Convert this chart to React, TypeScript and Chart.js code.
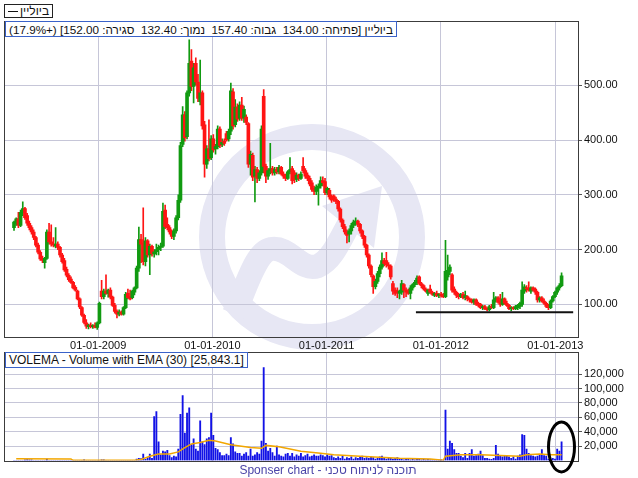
import React, { useEffect, useRef } from "react";
import { Chart, registerables } from "chart.js";

Chart.register(...registerables);

// ---- data ----
const firstWeek = "2008-04-07"; // weekly candles start here
const yearTickLabels = ["01-01-2009", "01-01-2010", "01-01-2011", "01-01-2012", "01-01-2013"];
const priceTicks = [100, 200, 300, 400, 500];
const volumeTicks = [20000, 40000, 60000, 80000, 100000, 120000];

const openP = [
  240, 248, 256, 244, 268, 275, 262, 248, 240, 232,
  222, 208, 195, 184, 176, 184, 232, 214, 210, 206,
  210, 204, 190, 180, 164, 153, 146, 140, 131, 124,
  110, 94, 80, 66, 59, 62, 59, 61, 58, 66,
  124, 114, 124, 120, 126, 113, 98, 87, 82, 86,
  82, 94, 120, 114, 112, 122, 130, 166, 218, 212,
  178, 216, 190, 206, 192, 196, 200, 204, 206, 272,
  246, 240, 232, 224, 234, 258, 290, 392, 446, 406,
  486, 544, 498, 540, 506, 470, 486, 428, 356, 384,
  368, 402, 384, 388, 420, 392, 398, 412, 402, 416,
  488, 428, 460, 440, 464, 440, 442, 430, 356, 372,
  334, 346, 330, 340, 480, 352, 334, 344, 348, 340,
  346, 342, 350, 338, 334, 330, 342, 348, 340, 328,
  336, 330, 352, 344, 336, 330, 322, 312, 306, 312,
  316, 326, 324, 304, 308, 296, 298, 292, 288, 274,
  254, 242, 232, 228, 234, 244, 250, 252, 246, 234,
  224, 208, 190, 170, 152, 132, 142, 156, 168, 180,
  180, 172, 170, 138, 126, 124, 120, 122, 136, 126,
  124, 120, 130, 136, 140, 150, 138, 134, 128, 120,
  128, 122, 116, 120, 116, 118, 116, 114, 150, 160,
  154, 128, 122, 116, 114, 118, 112, 114, 110, 108,
  104, 108, 102, 100, 94, 96, 92, 90, 96, 94,
  108, 112, 106, 100, 110, 102, 98, 92, 94, 92,
  94, 96, 100, 124, 130, 130, 124, 130, 128, 122,
  108, 112, 106, 102, 96, 94, 106, 114, 122, 130,
  134,
];
const highP = [
  252, 258, 268, 272, 287, 277, 266, 252, 244, 236,
  224, 212, 198, 188, 186, 236, 248, 245, 222, 240,
  214, 206, 193, 184, 168, 156, 150, 142, 134, 126,
  112, 96, 82, 72, 64, 66, 63, 66, 68, 104,
  144, 128, 154, 128, 130, 115, 102, 90, 90, 88,
  96, 122, 128, 126, 126, 132, 170, 241, 228, 276,
  222, 218, 210, 208, 200, 210, 208, 212, 285, 281,
  258, 244, 236, 238, 262, 300, 396, 461, 452, 490,
  583, 565, 540, 550, 520, 546, 490, 434, 390, 437,
  408, 410, 392, 426, 424, 402, 402, 416, 420, 504,
  494, 474, 466, 470, 478, 462, 446, 432, 380, 376,
  352, 350, 344, 426, 492, 356, 348, 394, 352, 350,
  350, 354, 352, 342, 338, 344, 368, 352, 344, 340,
  338, 342, 368, 348, 340, 334, 326, 316, 318, 320,
  333, 333, 330, 314, 312, 300, 300, 296, 290, 276,
  256, 246, 236, 238, 248, 254, 258, 254, 248, 236,
  226, 210, 192, 172, 154, 146, 160, 172, 194, 184,
  195, 176, 172, 142, 130, 130, 126, 144, 138, 130,
  128, 134, 138, 144, 152, 152, 140, 136, 130, 128,
  135, 124, 122, 124, 120, 122, 120, 217, 190, 172,
  156, 132, 124, 120, 120, 122, 124, 116, 112, 110,
  110, 110, 104, 102, 98, 98, 94, 98, 100, 122,
  114, 114, 118, 122, 112, 106, 100, 96, 96, 98,
  100, 104, 141, 136, 134, 141, 132, 132, 130, 124,
  114, 114, 110, 104, 100, 108, 116, 124, 132, 138,
  157.4,
];
const lowP = [
  235, 244, 240, 242, 262, 255, 244, 236, 228, 218,
  205, 192, 180, 176, 166, 182, 210, 206, 205, 203,
  200, 186, 175, 160, 150, 142, 138, 128, 124, 108,
  92, 78, 64, 56, 55, 57, 56, 57, 54, 64,
  110, 110, 118, 113, 110, 96, 84, 75, 79, 80,
  80, 92, 110, 108, 110, 117, 128, 160, 176, 172,
  170, 186, 154, 188, 186, 190, 190, 198, 204, 238,
  236, 228, 220, 218, 230, 254, 286, 388, 398, 402,
  480, 490, 468, 500, 470, 464, 420, 332, 348, 362,
  364, 378, 374, 384, 386, 388, 390, 398, 398, 410,
  420, 424, 434, 436, 436, 432, 428, 350, 336, 326,
  287, 322, 326, 336, 340, 322, 328, 338, 336, 336,
  338, 338, 336, 330, 326, 328, 338, 320, 322, 324,
  326, 328, 340, 330, 326, 316, 306, 300, 300, 281,
  312, 316, 300, 300, 292, 286, 288, 284, 270, 250,
  238, 228, 212, 214, 228, 240, 244, 242, 230, 220,
  204, 186, 166, 150, 120, 128, 138, 150, 164, 170,
  168, 164, 146, 118, 116, 112, 110, 118, 112, 114,
  118, 110, 126, 132, 136, 136, 130, 126, 122, 116,
  120, 116, 114, 114, 112, 113, 112, 112, 144, 154,
  122, 118, 112, 110, 112, 110, 108, 106, 104, 102,
  100, 98, 95, 92, 90, 90, 88, 88, 92, 92,
  104, 102, 96, 98, 100, 96, 90, 88, 90, 90,
  90, 92, 96, 120, 122, 124, 120, 124, 118, 104,
  104, 104, 100, 94, 90, 92, 104, 112, 118, 126,
  132.4,
];
const closeP = [
  250, 256, 244, 268, 275, 258, 248, 240, 232, 222,
  208, 195, 183, 180, 184, 232, 214, 210, 208, 210,
  204, 190, 178, 163, 153, 145, 140, 130, 126, 110,
  95, 80, 67, 60, 62, 59, 61, 58, 66, 102,
  114, 124, 120, 126, 113, 98, 87, 82, 86, 82,
  94, 118, 112, 110, 124, 130, 166, 218, 210, 178,
  216, 190, 206, 192, 196, 200, 204, 206, 270, 242,
  240, 232, 224, 234, 258, 290, 390, 446, 404, 486,
  540, 498, 532, 506, 476, 486, 426, 356, 384, 366,
  402, 382, 388, 420, 390, 396, 394, 400, 416, 490,
  426, 460, 438, 464, 440, 456, 432, 356, 374, 332,
  346, 330, 340, 420, 352, 334, 344, 348, 340, 346,
  342, 350, 338, 334, 330, 342, 346, 326, 328, 336,
  330, 338, 344, 334, 330, 320, 310, 306, 314, 316,
  326, 322, 304, 312, 296, 290, 292, 288, 274, 254,
  242, 232, 226, 234, 244, 250, 252, 246, 234, 224,
  208, 190, 170, 154, 132, 142, 156, 168, 180, 174,
  172, 170, 150, 124, 120, 122, 124, 138, 126, 122,
  120, 130, 136, 140, 148, 138, 134, 128, 124, 126,
  122, 118, 120, 116, 118, 116, 114, 160, 162, 168,
  126, 122, 116, 114, 118, 112, 116, 110, 108, 104,
  108, 100, 98, 94, 96, 92, 90, 96, 94, 108,
  112, 104, 100, 110, 102, 98, 92, 94, 92, 96,
  98, 102, 126, 132, 128, 126, 130, 126, 122, 108,
  112, 106, 102, 96, 94, 106, 114, 122, 130, 134,
  152,
];
const volume = [
  0, 0, 0, 0, 0, 1000, 1200, 800, 1000, 0,
  0, 0, 0, 0, 0, 2000, 0, 0, 0, 0,
  0, 0, 0, 0, 0, 0, 0, 0, 0, 0,
  0, 0, 800, 0, 0, 0, 0, 0, 0, 0,
  800, 800, 0, 0, 0, 0, 0, 0, 0, 0,
  0, 0, 0, 0, 0, 0, 2000, 3000, 2500, 9000,
  1500, 4000, 9000, 3000, 61000, 68000, 26000, 8000, 13000, 12000,
  14000, 7000, 4000, 6000, 5000, 16000, 64000, 90000, 38000, 66000,
  73000, 22000, 30000, 16000, 13000, 55000, 26000, 22000, 30000, 32000,
  66000, 35000, 17000, 15000, 11000, 7000, 7000, 9000, 7000, 32000,
  23000, 12000, 10000, 10000, 6000, 9000, 11000, 6000, 16000, 6000,
  8000, 11000, 9000, 27000, 129000, 24000, 13000, 17000, 11000, 6000,
  20000, 8000, 6000, 5000, 9000, 10000, 6000, 10000, 5000, 8000,
  6000, 10000, 5000, 7000, 9000, 5000, 6000, 8000, 6000, 6000,
  8000, 7000, 5000, 8000, 6000, 7000, 4000, 3000, 5000, 3000,
  6000, 2000, 4000, 3000, 5000, 2000, 4000, 3000, 5000, 6000,
  3000, 4000, 3000, 5000, 4000, 2000, 3000, 5000, 6000, 3000,
  2000, 4000, 3000, 2000, 3000, 4000, 2000, 2000, 1000, 2000,
  3000, 1000, 2000, 1000, 1500, 2000, 1000, 2000, 1000, 1500,
  1000, 1000, 500, 1000, 500, 1000, 500, 70000, 16000, 27000,
  24000, 15000, 10000, 10000, 6000, 4000, 10000, 3000, 10000, 15000,
  6000, 7000, 9000, 13000, 7000, 3000, 3000, 2000, 1500, 3000,
  21000, 9000, 6000, 5000, 7000, 7000, 5000, 3000, 5000, 2000,
  6000, 8000, 36000, 35000, 16000, 10000, 7000, 6000, 5000, 6000,
  8000, 15000, 7000, 6000, 2000, 1000, 3000, 2000, 16000, 13000,
  26000,
];
const emaWeeks = [1, 26, 27, 55, 58, 62, 66, 71, 75, 78, 81, 85, 89, 92, 99, 108, 113, 115, 121, 131, 140, 146, 158, 176, 190, 196, 197, 204, 213, 222, 231, 234, 240, 245, 250];
const emaValues = [2500, 2000, 300, 300, 1500, 6000, 9000, 9000, 12000, 18000, 23000, 25000, 28000, 27000, 22000, 18000, 17000, 21000, 19000, 13000, 10000, 8000, 6000, 3000, 2000, 500, 6000, 8000, 8000, 7000, 6000, 8000, 9000, 8000, 8000];
const supportFromWeek = 183.5;
const supportToWeek = 255.3;
const supportPrice = 85.4;

const legendName = "ביוליין";
const priceHeader = "ביוליין [פתיחה: 134.00  גבוה: 157.40  נמוך: 132.40  סגירה: 152.00] (+17.9%)";
const volumeHeader = "VOLEMA - Volume with EMA (30) [25,843.1]";
const footerText = "Sponser chart - תוכנה לניתוח טכני";

// ---- styles ----
const FONT = "'Liberation Sans', Arial, sans-serif";
const GREEN = "#119a11";
const RED = "#ff1414";
const GRID = "#c6c6d8";
const FRAME = "#3c3c3c";
const WATERMARK = "#e7e7f4";
const WEEK_MS = 7 * 86400000;

function weekOf(label: string): number {
  const [d, m, y] = label.split("-").map(Number);
  const [sy, sm, sd] = firstWeek.split("-").map(Number);
  return (Date.UTC(y, m - 1, d) - Date.UTC(sy, sm - 1, sd)) / WEEK_MS;
}

const framePlugin = {
  id: "frame",
  afterDraw(chart: any) {
    const { ctx, chartArea: a } = chart;
    ctx.save();
    ctx.strokeStyle = FRAME;
    ctx.lineWidth = 1;
    const l = Math.round(a.left) + 0.5;
    const t = Math.round(a.top) + 0.5;
    const r = Math.round(a.right) + 0.5;
    const b = Math.round(a.bottom) + 0.5;
    ctx.strokeRect(l, t, r - l, b - t);
    ctx.restore();
  },
};

const watermarkPlugin = {
  id: "watermark",
  beforeDraw(chart: any) {
    const { ctx } = chart;
    ctx.save();
    ctx.strokeStyle = WATERMARK;
    ctx.fillStyle = WATERMARK;
    ctx.lineWidth = 26;
    ctx.beginPath();
    ctx.arc(312, 237, 100, 0, Math.PI * 2);
    ctx.stroke();
    ctx.lineWidth = 24;
    ctx.lineCap = "butt";
    ctx.lineJoin = "round";
    ctx.beginPath();
    ctx.moveTo(234, 314);
    ctx.bezierCurveTo(248, 282, 256, 252, 271, 249);
    ctx.bezierCurveTo(290, 246, 300, 272, 318, 266);
    ctx.bezierCurveTo(332, 260, 340, 240, 350, 222);
    ctx.stroke();
    ctx.beginPath();
    ctx.moveTo(322, 206);
    ctx.lineTo(382, 186);
    ctx.lineTo(374, 248);
    ctx.closePath();
    ctx.fill();
    ctx.restore();
  },
};

const ellipsePlugin = {
  id: "ellipse",
  afterDraw(chart: any) {
    const { ctx } = chart;
    ctx.save();
    ctx.strokeStyle = "#000";
    ctx.lineWidth = 3;
    ctx.beginPath();
    ctx.ellipse(561.5, 95, 13, 25, 0, 0, Math.PI * 2);
    ctx.stroke();
    ctx.restore();
  },
};

export default function App() {
  const priceRef = useRef<HTMLCanvasElement>(null);
  const volRef = useRef<HTMLCanvasElement>(null);

  useEffect(() => {
    const yearPos = yearTickLabels.map(weekOf);
    const colors = closeP.map((c, i) => (c >= openP[i] ? GREEN : RED));
    const tickFont = { family: FONT, size: 11 };
    const xMin = -4.57;
    const xMax = 257.5;

    const priceChart = new Chart(priceRef.current as HTMLCanvasElement, {
      type: "bar",
      data: {
        datasets: [
          {
            type: "bar",
            data: lowP.map((l, i) => ({ x: i, y: [l, highP[i]] })) as any,
            backgroundColor: colors,
            barThickness: 1,
            grouped: false,
            order: 3,
          },
          {
            type: "bar",
            data: openP.map((o, i) => ({ x: i, y: [Math.min(o, closeP[i]), Math.max(o, closeP[i])] })) as any,
            backgroundColor: colors,
            barThickness: 3,
            minBarLength: 1,
            grouped: false,
            order: 2,
          },
          {
            type: "line",
            data: [
              { x: supportFromWeek, y: supportPrice },
              { x: supportToWeek, y: supportPrice },
            ] as any,
            borderColor: "#111",
            borderWidth: 2,
            pointRadius: 0,
            order: 1,
          },
        ],
      },
      options: {
        responsive: false,
        animation: false,
        devicePixelRatio: 1,
        layout: { padding: { left: 4, top: 21, right: 0, bottom: 0 } },
        plugins: { legend: { display: false }, tooltip: { enabled: false } },
        scales: {
          x: {
            type: "linear",
            min: xMin,
            max: xMax,
            offset: false,
            afterBuildTicks: (s: any) => {
              s.ticks = yearPos.map((v) => ({ value: v }));
            },
            afterFit: (s: any) => {
              s.height = 15.5;
              s.paddingLeft = 0;
              s.paddingRight = 0;
            },
            ticks: {
              autoSkip: false,
              maxRotation: 0,
              padding: 3,
              font: tickFont,
              color: "#111",
              callback: (_v: any, i: number) => yearTickLabels[i],
            },
            grid: { color: GRID, drawTicks: false, offset: false },
            border: { display: false },
          },
          y: {
            type: "linear",
            position: "right",
            min: 41.2,
            max: 617.4,
            beginAtZero: false,
            afterBuildTicks: (s: any) => {
              s.ticks = priceTicks.map((v) => ({ value: v }));
            },
            afterFit: (s: any) => {
              s.width = 60;
              s.paddingTop = 0;
              s.paddingBottom = 0;
            },
            ticks: {
              padding: 2,
              font: tickFont,
              color: "#111",
              callback: (v: any) => Number(v).toFixed(2),
            },
            grid: { color: GRID, tickColor: "#555", tickLength: 4 },
            border: { display: false },
          },
        },
      } as any,
      plugins: [watermarkPlugin, framePlugin],
    });

    const volChart = new Chart(volRef.current as HTMLCanvasElement, {
      type: "bar",
      data: {
        datasets: [
          {
            type: "bar",
            data: volume.map((v, i) => ({ x: i, y: v })) as any,
            backgroundColor: "#1212e6",
            barThickness: 1.2,
            grouped: false,
            order: 2,
          },
          {
            type: "line",
            data: emaWeeks.map((w, i) => ({ x: w, y: emaValues[i] })) as any,
            borderColor: "#f2a600",
            borderWidth: 1.5,
            pointRadius: 0,
            order: 1,
          },
        ],
      },
      options: {
        responsive: false,
        animation: false,
        devicePixelRatio: 1,
        layout: { padding: { left: 4, top: 0, right: 0, bottom: 0 } },
        plugins: { legend: { display: false }, tooltip: { enabled: false } },
        scales: {
          x: {
            type: "linear",
            min: xMin,
            max: xMax,
            offset: false,
            afterBuildTicks: (s: any) => {
              s.ticks = yearPos.map((v) => ({ value: v }));
            },
            afterFit: (s: any) => {
              s.height = 17.5;
              s.paddingLeft = 0;
              s.paddingRight = 0;
            },
            ticks: { display: false },
            grid: { color: GRID, drawTicks: false, offset: false },
            border: { display: false },
          },
          y: {
            type: "linear",
            position: "right",
            min: 0,
            max: 150700,
            afterBuildTicks: (s: any) => {
              s.ticks = volumeTicks.map((v) => ({ value: v }));
            },
            afterFit: (s: any) => {
              s.width = 60;
              s.paddingTop = 0;
              s.paddingBottom = 0;
            },
            ticks: {
              padding: 2,
              font: tickFont,
              color: "#111",
              callback: (v: any) => Number(v).toLocaleString("en-US"),
            },
            grid: { color: GRID, tickColor: "#555", tickLength: 4 },
            border: { display: false },
          },
        },
      } as any,
      plugins: [framePlugin, ellipsePlugin],
    });

    return () => {
      priceChart.destroy();
      volChart.destroy();
    };
  }, []);

  const boxBase: React.CSSProperties = {
    position: "absolute",
    background: "#fff",
    fontFamily: FONT,
    color: "#111",
    whiteSpace: "pre",
    lineHeight: "13px",
    boxSizing: "border-box",
  };

  return (
    <div style={{ position: "absolute", left: 0, top: 0, width: 638, height: 478, background: "#fff", overflow: "hidden" }}>
      <canvas ref={priceRef} width={638} height={352} style={{ position: "absolute", left: 0, top: 0, display: "block" }} />
      <canvas ref={volRef} width={638} height={126} style={{ position: "absolute", left: 0, top: 352, display: "block" }} />
      <div
        style={{ ...boxBase, left: 4, top: 4, height: 14, padding: "0 3px", border: "1px solid #222", fontSize: 12, display: "flex", alignItems: "center", gap: 2 }}
        dir="rtl"
      >
        <span>{legendName}</span>
        <span style={{ display: "inline-block", width: 10, height: 1, background: "#111" }} />
      </div>
      <div dir="rtl" style={{ ...boxBase, left: 5, top: 21, height: 16, padding: "1px 3px 0 3px", border: "1px solid #3a62c9", fontSize: 11.7 }}>
        {priceHeader}
      </div>
      <div style={{ ...boxBase, left: 5, top: 352, height: 16, padding: "1px 3px 0 3px", border: "1px solid #3a62c9", fontSize: 12 }}>
        {volumeHeader}
      </div>
      <div style={{ position: "absolute", left: 0, width: 656, top: 463, textAlign: "center", fontFamily: FONT, fontSize: 12, color: "#4a44a8", whiteSpace: "pre" }}>
        {footerText}
      </div>
    </div>
  );
}
